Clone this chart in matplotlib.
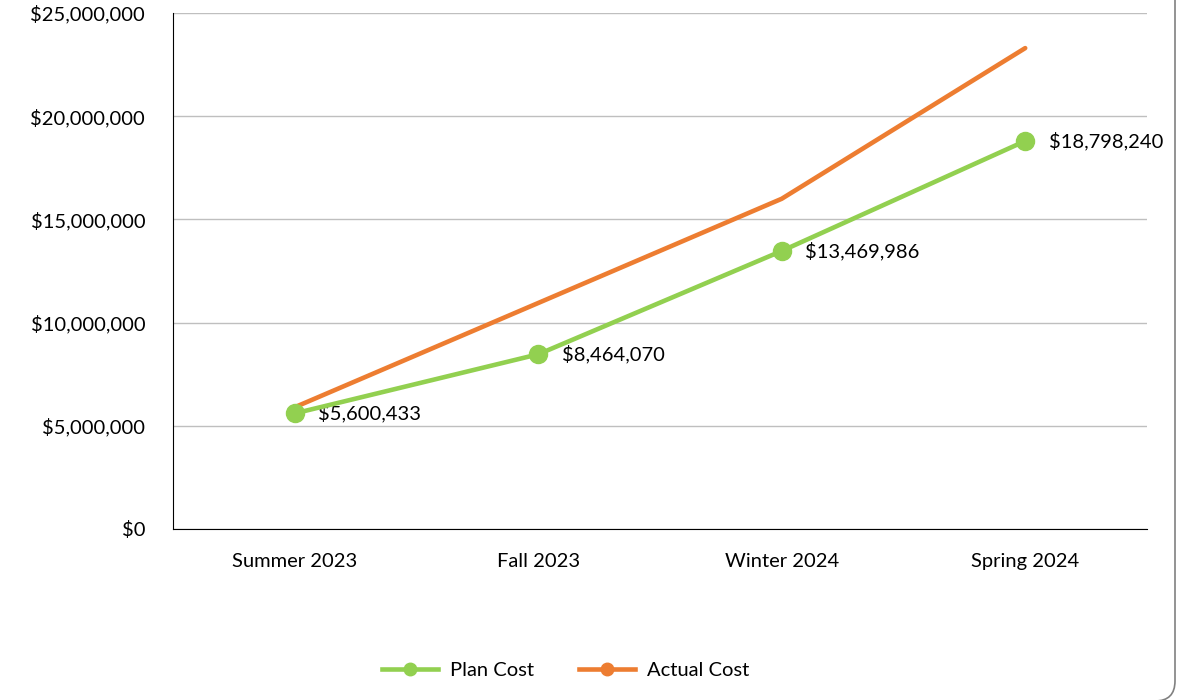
import matplotlib.pyplot as plt
from matplotlib.lines import Line2D
from matplotlib.patches import FancyBboxPatch
from matplotlib.ticker import FuncFormatter

# Data
seasons = ["Summer 2023", "Fall 2023", "Winter 2024", "Spring 2024"]
plan_cost = [5600433, 8464070, 13469986, 18798240]
actual_cost = [5900000, 10950000, 16000000, 23300000]

green = "#92D050"
orange = "#ED7D31"

plt.rcParams['font.family'] = ['Lato', 'DejaVu Sans']

fig = plt.figure(figsize=(11.93, 7), dpi=100)
ax = fig.add_axes([0.145, 0.2443, 0.8164, 0.7371])

x = range(len(seasons))
ax.plot(x, actual_cost, color=orange, lw=3.3, solid_capstyle='round', zorder=3)
ax.plot(x, plan_cost, color=green, lw=3.3, marker='o', markersize=13, zorder=4)

for i, v in enumerate(plan_cost):
    ax.annotate("${:,.0f}".format(v), (i, v), xytext=(17, 0), textcoords='offset points',
                ha='left', va='center', fontsize=14.5, color='#000000')

ax.set_xlim(-0.5, 3.5)
ax.set_ylim(0, 25000000)
ax.set_xticks(list(x))
ax.set_xticklabels(seasons)
ax.set_yticks(range(0, 25000001, 5000000))
ax.yaxis.set_major_formatter(FuncFormatter(lambda v, p: "${:,.0f}".format(v)))
ax.tick_params(axis='both', length=0, labelsize=14.5, colors='#000000')
ax.tick_params(axis='x', pad=17)
ax.tick_params(axis='y', pad=20)
ax.grid(axis='y', color='#BFBFBF', lw=1)
ax.set_axisbelow(True)
for s in ['top', 'right']:
    ax.spines[s].set_visible(False)
ax.spines['left'].set_color('#000000')
ax.spines['bottom'].set_color('#000000')

handles = [Line2D([], [], color=green, lw=3.3, marker='o', markersize=9),
           Line2D([], [], color=orange, lw=3.3, marker='o', markersize=9)]
fig.legend(handles, ["Plan Cost", "Actual Cost"], loc='center', bbox_to_anchor=(0.474, 0.042),
           ncol=2, frameon=False, fontsize=14.5, handlelength=2.8, handletextpad=0.6,
           columnspacing=2.2)

# rounded frame, partly cut off by the image edges
frame = FancyBboxPatch((-20, -1), 1195, 800, boxstyle="round,pad=0,rounding_size=20",
                       transform=None, fill=False, ec='#808080', lw=1.2)
fig.patches.append(frame)

fig.savefig("out.png", dpi=100)
